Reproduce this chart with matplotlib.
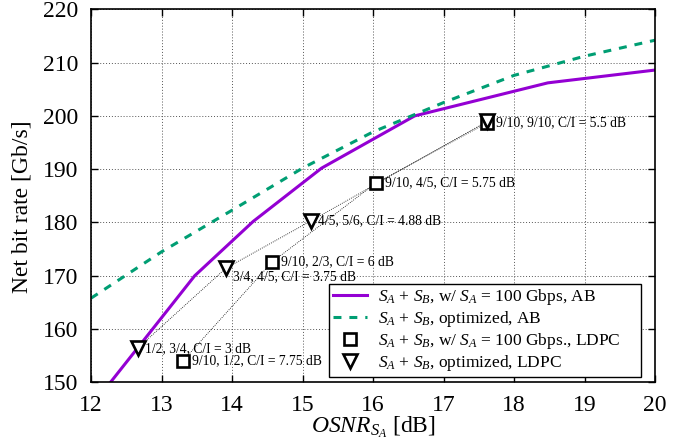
import matplotlib
matplotlib.use("Agg")
from matplotlib import pyplot as plt
import numpy as np

plt.rcParams['font.family'] = ['Liberation Serif', 'DejaVu Serif']
plt.rcParams['mathtext.fontset'] = 'custom'
plt.rcParams['mathtext.rm'] = 'Liberation Serif'
plt.rcParams['mathtext.it'] = 'Liberation Serif:italic'

# S_A + S_B with S_A fixed at 100 Gbps, AB (piecewise linear)
ab_fixed_x = [12.0, 13.47, 14.30, 15.27, 16.59, 18.48, 20.0]
ab_fixed_y = [145.4, 170.0, 180.2, 190.2, 200.0, 206.2, 208.6]

# S_A + S_B optimized, AB
ab_opt_x = [12, 13, 14, 15, 16, 17, 18, 19, 20]
ab_opt_y = [165.8, 174.5, 182.3, 190.2, 197.0, 202.5, 207.6, 211.2, 214.2]

# LDPC, S_A fixed (squares)
sq_x = [13.30, 14.57, 16.04, 17.62]
sq_y = [154.0, 172.6, 187.4, 198.7]
sq_labels = ["9/10, 1/2, C/I = 7.75 dB", "9/10, 2/3, C/I = 6 dB",
             "9/10, 4/5, C/I = 5.75 dB", "9/10, 9/10, C/I = 5.5 dB"]

# LDPC, optimized (triangles)
tri_x = [12.66, 13.91, 15.12, 17.62]
tri_y = [156.4, 171.4, 180.3, 199.0]
tri_labels = ["1/2, 3/4, C/I = 3 dB", "3/4, 4/5, C/I = 3.75 dB",
              "4/5, 5/6, C/I = 4.88 dB", ""]

fig = plt.figure(figsize=(6.95, 4.45), dpi=100)
ax = fig.add_axes([0.131, 0.1407, 0.8115, 0.8384])

ax.grid(True, color='#555555', linestyle=(0, (1, 2)), linewidth=0.7)
ax.set_axisbelow(True)

ax.plot(sq_x, sq_y, color='black', linestyle=(0, (1, 1.5)), linewidth=0.6)
ax.plot(tri_x, tri_y, color='black', linestyle=(0, (1, 1.5)), linewidth=0.6)

ax.plot(ab_fixed_x, ab_fixed_y, color='#9400D3', linewidth=2.2,
        label=r'$S_A$ + $S_B$, w/ $S_A$ = 100 Gbps, AB')
ax.plot(ab_opt_x, ab_opt_y, color='#009E73', linewidth=2.2,
        dashes=(2.6, 2.6), label=r'$S_A$ + $S_B$, optimized, AB')
ax.plot(sq_x, sq_y, linestyle='none', marker='s', markersize=8,
        markerfacecolor='white', markeredgecolor='black', markeredgewidth=1.9,
        label=r'$S_A$ + $S_B$, w/ $S_A$ = 100 Gbps., LDPC')
ax.plot(tri_x, tri_y, linestyle='none', marker='v', markersize=10.5,
        markerfacecolor='white', markeredgecolor='black', markeredgewidth=1.9,
        label=r'$S_A$ + $S_B$, optimized, LDPC')

for x, y, t in zip(sq_x, sq_y, sq_labels):
    ax.annotate(t, (x, y), xytext=(9, 0), textcoords='offset pixels',
                ha='left', va='center', fontsize=9.8)
tri_dy = [0, -8, 0, 0]
for x, y, t, dy in zip(tri_x, tri_y, tri_labels, tri_dy):
    if t:
        ax.annotate(t, (x, y), xytext=(7, dy), textcoords='offset pixels',
                    ha='left', va='center', fontsize=9.8)

ax.set_xlim(12, 20)
ax.set_ylim(150, 220)
ax.set_xticks(np.arange(12, 21, 1))
ax.set_yticks(np.arange(150, 221, 10))
ax.tick_params(direction='in', length=5, width=1, top=True, right=True,
               labelsize=17, pad=9)
for s in ax.spines.values():
    s.set_linewidth(1.2)

ax.set_xlabel(r'$OSNR_{S_A}$ [dB]', fontsize=17, labelpad=-1)
ax.set_ylabel('Net bit rate [Gb/s]', fontsize=17)
ax.yaxis.set_label_coords(-0.103, 0.47)

leg = ax.legend(loc='lower left', bbox_to_anchor=(0.422, 0.015, 0.553, 0.24),
                mode='expand', fontsize=12.5, frameon=True, fancybox=False,
                edgecolor='black', framealpha=1, borderpad=0.2,
                labelspacing=0.12, handlelength=2.0, handletextpad=0.6,
                borderaxespad=0)
leg.get_frame().set_linewidth(1.0)

fig.savefig('out.png', dpi=100)
